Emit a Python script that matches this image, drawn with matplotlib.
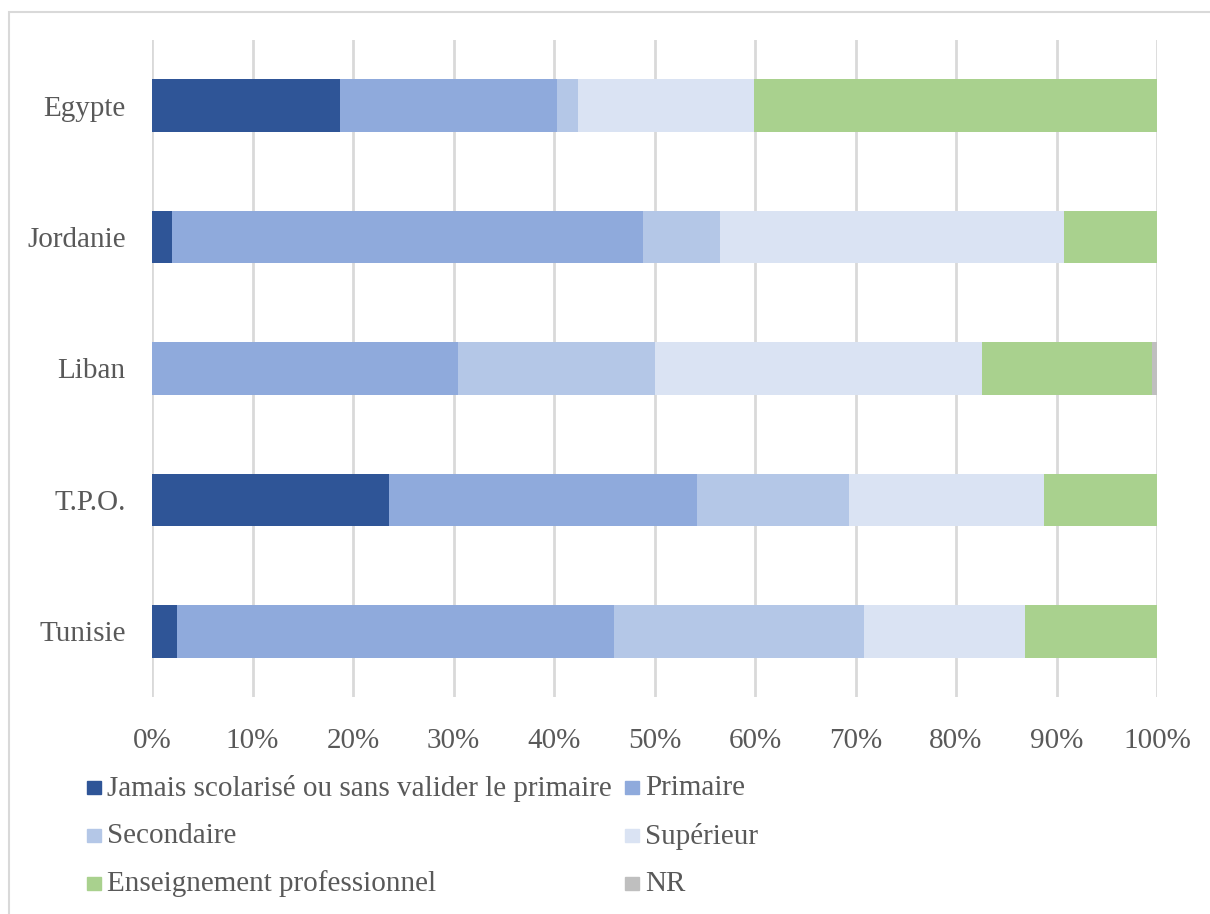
import matplotlib
matplotlib.use("Agg")
import matplotlib.pyplot as plt
from matplotlib.patches import Rectangle
import numpy as np

plt.rcParams['font.family'] = ['Liberation Serif', 'DejaVu Serif']

countries = ["Egypte", "Jordanie", "Liban", "T.P.O.", "Tunisie"]
series_names = ["Jamais scolarisé ou sans valider le primaire", "Primaire",
                "Secondaire", "Supérieur", "Enseignement professionnel", "NR"]
jamais = [18.7, 2.0, 0.0, 23.6, 2.5]
primaire = [21.6, 46.9, 30.4, 30.6, 43.5]
secondaire = [2.1, 7.6, 19.6, 15.2, 24.8]
superieur = [17.5, 34.2, 32.6, 19.4, 16.1]
professionnel = [40.1, 9.3, 16.9, 11.2, 13.1]
nr = [0.0, 0.0, 0.5, 0.0, 0.0]
colors = ["#2F5597", "#8FAADC", "#B4C7E7", "#DAE3F3", "#A9D18E", "#BFBFBF"]

fig = plt.figure(figsize=(12.10, 9.14), dpi=100)
ax = fig.add_axes([152/1210, 1-697/914, (1157-152)/1210, (697-40)/914])

data = [jamais, primaire, secondaire, superieur, professionnel, nr]
y = np.arange(len(countries))
left = np.zeros(len(countries))
for vals, c in zip(data, colors):
    v = np.array(vals)
    ax.barh(y, v, left=left, height=0.40, color=c, zorder=3)
    left += v

ax.set_xlim(0, 100)
ax.set_ylim(len(countries)-0.5, -0.5)
ax.set_yticks(y)
ax.set_yticklabels(countries)
ax.set_xticks(np.arange(0, 101, 10))
ax.set_xticklabels([f"{t}%" for t in range(0, 101, 10)])
ax.grid(axis='x', color='#D9D9D9', linewidth=2, zorder=0)
for s in ax.spines.values():
    s.set_visible(False)
ax.tick_params(length=0, labelsize=21, colors='#595959', pad=19)
ax.tick_params(axis='x', pad=22)

# chart frame (top and left only visible)
fig.patches.append(Rectangle((9/1210, -0.1), 1.2, 1.1-12/914, transform=fig.transFigure,
                             fill=False, edgecolor='#D9D9D9', linewidth=1.5))

# legend
rows = [787, 835, 883]
cols = [87, 625]
for i, (name, c) in enumerate(zip(series_names, colors)):
    r, col = divmod(i, 2)
    xp = cols[col]
    yp = rows[r]
    fig.patches.append(Rectangle((xp/1210, 1-(yp+7)/914), 14/1210, 13/914,
                                 transform=fig.transFigure, color=c))
    fig.text((xp+20)/1210, 1-(yp+1)/914, name, fontsize=21, color='#595959',
             va='center', ha='left')

fig.savefig("out.png", dpi=100)
